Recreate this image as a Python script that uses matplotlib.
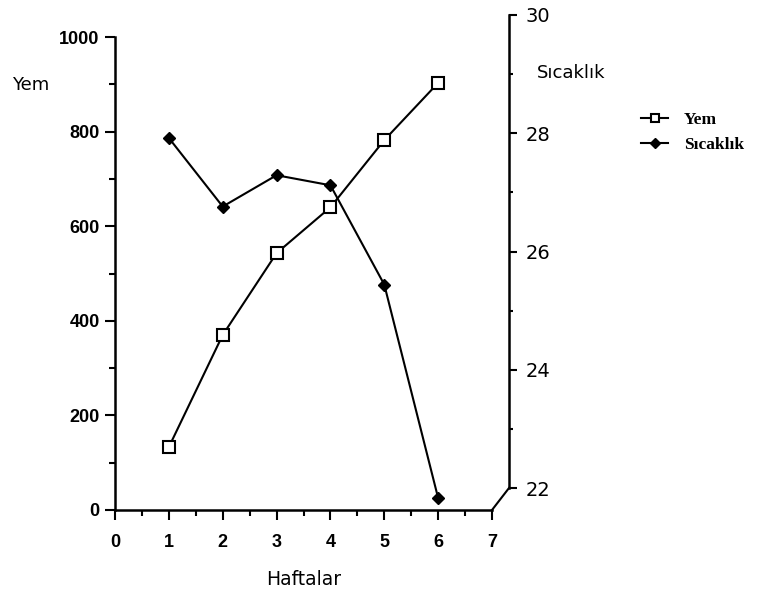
import matplotlib
matplotlib.use('Agg')
import matplotlib.pyplot as plt
from matplotlib.lines import Line2D
from matplotlib.ticker import MultipleLocator

# veriler
haftalar = [1, 2, 3, 4, 5, 6]
yem = [133, 370, 543, 640, 782, 903]
sicaklik = [27.92, 26.76, 27.29, 27.12, 25.44, 21.83]

sol_ticks = [0, 200, 400, 600, 800, 1000]
sag_ticks = [22, 24, 26, 28, 30]
x_ticks = [0, 1, 2, 3, 4, 5, 6, 7]

W, H = 781, 594
fig = plt.figure(figsize=(W / 100, H / 100), dpi=100)

bold_font = dict(family=['Liberation Sans Narrow', 'Liberation Sans', 'DejaVu Sans'],
                 weight='bold', size=13)

# sol eksen (Yem)
ax = fig.add_axes([115 / W, (H - 510) / H, 377 / W, 473 / H])
ax.set_xlim(0, 7)
ax.set_ylim(0, 1000)
ax.spines['top'].set_visible(False)
ax.spines['right'].set_visible(False)
for s in ['left', 'bottom']:
    ax.spines[s].set_linewidth(1.8)
ax.set_xticks(x_ticks)
ax.set_yticks(sol_ticks)
ax.xaxis.set_minor_locator(MultipleLocator(0.5))
ax.yaxis.set_minor_locator(MultipleLocator(100))
ax.tick_params(which='major', direction='out', length=7, width=1.5, pad=4)
ax.tick_params(which='minor', direction='out', length=4, width=1.5)
ax.tick_params(axis='x', which='major', pad=10)
ax.set_xticklabels([str(t) for t in x_ticks], fontdict=bold_font)
ax.set_yticklabels([str(t) for t in sol_ticks], fontdict=bold_font)

l1, = ax.plot(haftalar, yem, color='black', lw=1.5, marker='s', ms=8,
              mfc='white', mec='black', mew=1.5, label='Yem', zorder=3)

ax.set_xlabel('Haftalar', fontsize=13.5, labelpad=14)
fig.text(12 / W, 1 - 85 / H, 'Yem', fontsize=13, va='center', ha='left')

# sağ eksen (Sıcaklık), biraz yukarı ve sağa kaydırılmış
ax2 = fig.add_axes([115 / W, (H - 488) / H, 377 / W, 473 / H])
ax2.patch.set_visible(False)
ax2.set_xlim(0, 7)
ax2.set_ylim(22, 30)
for s in ['top', 'left', 'bottom']:
    ax2.spines[s].set_visible(False)
ax2.spines['right'].set_position(('outward', 12.2))
ax2.spines['right'].set_linewidth(1.8)
ax2.xaxis.set_visible(False)
ax2.yaxis.tick_right()
ax2.set_yticks(sag_ticks)
ax2.yaxis.set_minor_locator(MultipleLocator(1))
ax2.tick_params(which='major', direction='out', length=6, width=1.5, pad=6, labelsize=14)
ax2.tick_params(which='minor', direction='out', length=3, width=1.5)

l2, = ax2.plot(haftalar, sicaklik, color='black', lw=1.5, marker='D', ms=6,
               mfc='black', mec='black', label='Sıcaklık', clip_on=False, zorder=3)

fig.text(537 / W, 1 - 73 / H, 'Sıcaklık', fontsize=13, va='center', ha='left')

# iki ekseni bağlayan çizgi
fig.add_artist(Line2D([492 / W, 509 / W], [1 - 510 / H, 1 - 488 / H],
                      transform=fig.transFigure, color='black', lw=1.5))

fig.legend(handles=[l1, l2], loc='upper left', bbox_to_anchor=(625 / W, 1 - 96 / H),
           frameon=False, handlelength=1.6, handletextpad=0.9, labelspacing=0.55,
           markerscale=0.8,
           prop=dict(family=['Liberation Serif', 'DejaVu Serif'], weight='bold', size=12.5))

fig.savefig('out.png', dpi=100)
